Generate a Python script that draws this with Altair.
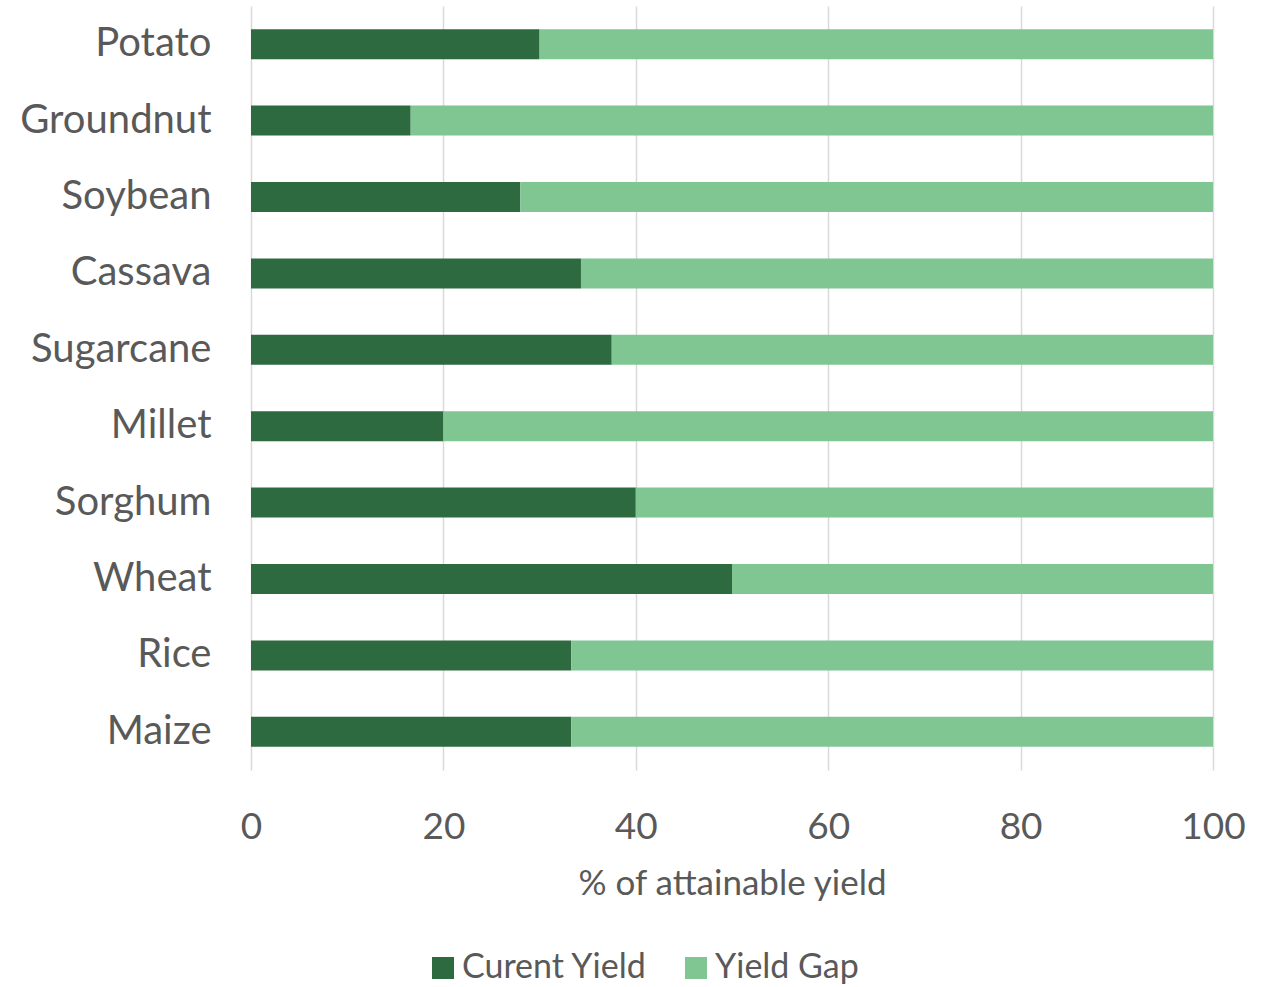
import altair as alt
import pandas as pd

# Share of attainable yield by crop
crops = ["Potato", "Groundnut", "Soybean", "Cassava", "Sugarcane",
         "Millet", "Sorghum", "Wheat", "Rice", "Maize"]
current_yield = [30, 16.6, 28, 34.3, 37.5, 20, 40, 50, 33.3, 33.3]
series_names = ["Curent Yield", "Yield Gap"]
series_colors = ["#2E6A40", "#7FC693"]
x_ticks = [0, 20, 40, 60, 80, 100]

rows = []
for crop, cur in zip(crops, current_yield):
    rows.append({"crop": crop, "series": series_names[0], "value": cur, "rank": 0})
    rows.append({"crop": crop, "series": series_names[1], "value": round(100 - cur, 1), "rank": 1})
df = pd.DataFrame(rows)

FONT = "Lato"
TEXT = "#595959"

chart = (
    alt.Chart(df)
    .mark_bar()
    .encode(
        y=alt.Y(
            "crop:N",
            sort=crops,
            title=None,
            scale=alt.Scale(paddingInner=0.607, paddingOuter=0.3035),
            axis=alt.Axis(
                labelFontSize=40, labelColor=TEXT, labelFont=FONT,
                labelPadding=40, ticks=False, domain=False, grid=False,
                labelLimit=0,
            ),
        ),
        x=alt.X(
            "value:Q",
            stack="zero",
            title="% of attainable yield",
            scale=alt.Scale(domain=[0, 100], nice=False),
            axis=alt.Axis(
                values=x_ticks, labelFontSize=37, labelColor=TEXT, labelFont=FONT,
                labelPadding=39, labelFlush=False, ticks=False, domain=False,
                grid=True, gridColor="#D9D9D9", gridWidth=1.5,
                titleFontSize=35, titleColor=TEXT, titleFont=FONT,
                titleFontWeight="normal", titlePadding=21,
            ),
        ),
        color=alt.Color(
            "series:N",
            scale=alt.Scale(domain=series_names, range=series_colors),
            legend=alt.Legend(
                title=None, orient="none", direction="horizontal",
                legendX=175, legendY=945, padding=0,
                symbolType="square", symbolSize=484, symbolStrokeWidth=0,
                labelFontSize=34, labelColor=TEXT, labelFont=FONT,
                columnPadding=31, labelOffset=2, labelLimit=0,
            ),
        ),
        order=alt.Order("rank:Q"),
    )
    .properties(
        width=962, height=764,
        autosize=alt.AutoSizeParams(type="none"),
        padding={"left": 251, "top": 6, "right": 55, "bottom": 217},
    )
    .configure(background="white")
    .configure_view(stroke=None, strokeWidth=0)
)

chart.save("out.html", embed_options={"renderer": "svg", "actions": False})
